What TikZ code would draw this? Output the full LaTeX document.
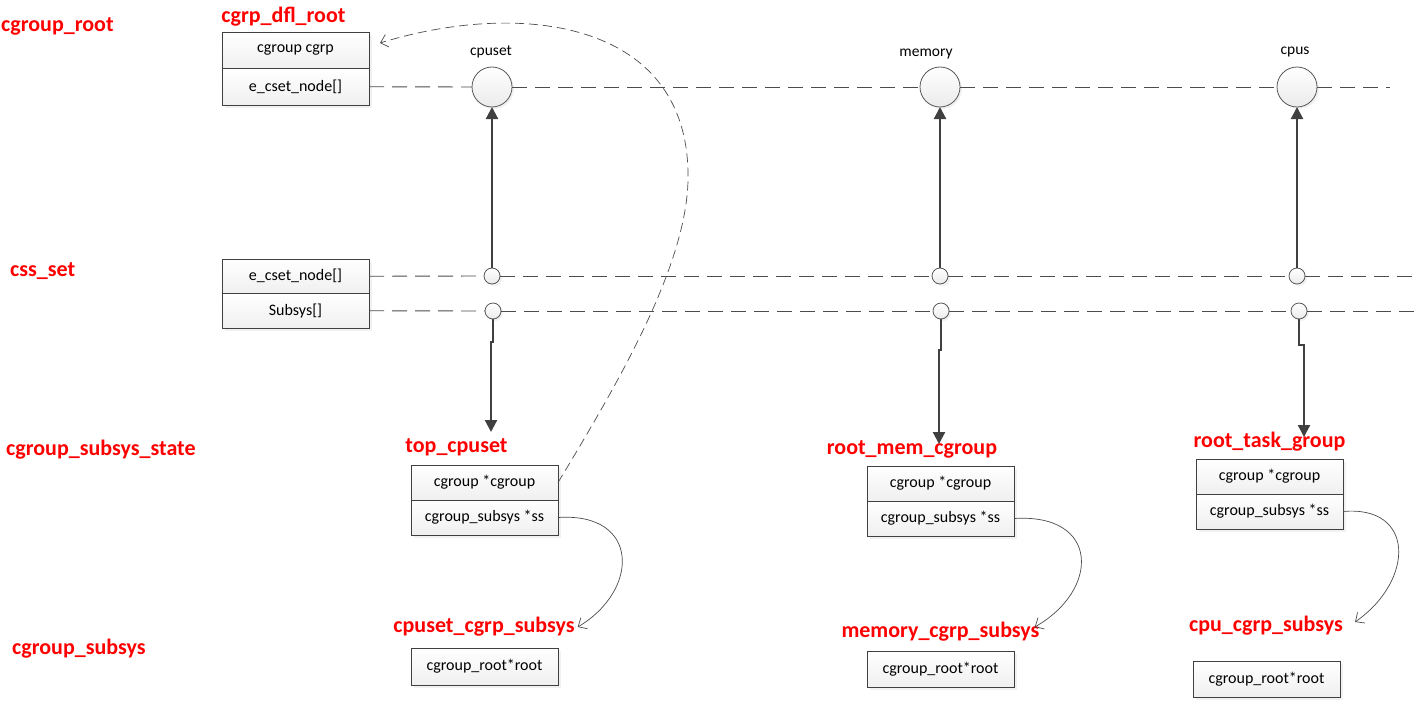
\documentclass[tikz,border=0pt]{standalone}
\usepackage{fontspec}
\setmainfont{Carlito}
\usetikzlibrary{arrows.meta,positioning,shadows}
\definecolor{lblred}{HTML}{FF0000}
\definecolor{linegray}{HTML}{404040}

\begin{document}
\begin{tikzpicture}[
    x=1pt, y=-1pt,
    field/.style={rectangle, draw=black!75, line width=0.9pt, top color=white, bottom color=black!6,
                  minimum width=147pt, minimum height=35pt, inner sep=0pt, outer sep=0pt,
                  font=\fontsize{16}{19}\selectfont,
                  drop shadow={shadow xshift=3pt, shadow yshift=-3pt, fill=black!10}},
    bighub/.style={circle, draw=black!65, line width=0.8pt, top color=white, bottom color=black!8,
                   minimum size=40pt, inner sep=0pt, outer sep=0pt,
                   drop shadow={shadow xshift=2pt, shadow yshift=-2pt, fill=black!10}},
    smallhub/.style={bighub, minimum size=16pt},
    redlbl/.style={font=\fontsize{22}{26}\selectfont\bfseries, text=lblred, inner sep=0pt},
    sublbl/.style={font=\fontsize{15.5}{18}\selectfont, inner sep=0pt},
    uparrow/.style={-{Triangle[length=12pt,width=12pt]}, line width=2.2pt, draw=linegray},
    ptrarrow/.style={-{Straight Barb[length=7pt,width=13pt]}, line width=0.7pt, draw=black!70},
    backref/.style={ptrarrow, dash pattern=on 9pt off 5pt},
    link/.style={draw=black!70, line width=0.9pt, dash pattern=on 15pt off 8pt}
]
  \fill[white] (0,0) rectangle (1421,701);
  \useasboundingbox (0,0) rectangle (1421,701);

  % Row titles
  \node[redlbl, anchor=west] (rootlbl) at (1,26) {cgroup\_root};
  \node[redlbl, anchor=west] (csetlbl) at (10,271) {css\_set};
  \node[redlbl, anchor=west] (csslbl) at (6,450) {cgroup\_subsys\_state};
  \node[redlbl, anchor=west] (subsyslbl) at (12,649) {cgroup\_subsys};

  % cgrp_dfl_root
  \node[redlbl] (dfllbl) at (283.5,17) {cgrp\_dfl\_root};
  \node[field, anchor=north west, minimum height=36.5pt] (dflcgrp) at (222,32) {cgroup cgrp};
  \node[field, below=0pt of dflcgrp, minimum height=36.5pt] (dflcset) {e\_cset\_node[]};

  % css_set
  \node[field, anchor=north west, minimum height=34.5pt] (csetnode) at (222,259) {e\_cset\_node[]};
  \node[field, below=0pt of csetnode, minimum height=34.5pt] (csetsubsys) {Subsys[]};

  % Subsystem hubs
  \node[bighub] (cpusethub) at (492,87) {};
  \node[bighub] (memhub) at (940,87) {};
  \node[bighub] (cpushub) at (1297,87) {};
  \node[sublbl] (cpusetname) at (491,52) {cpuset};
  \node[sublbl] (memname) at (926,54) {memory};
  \node[sublbl] (cpusname) at (1295,52) {cpus};

  \node[smallhub] (cpusetcset) at (492,276) {};
  \node[smallhub] (memcset) at (940,276) {};
  \node[smallhub] (cpuscset) at (1297,276) {};
  \node[smallhub] (cpusetsub) at (493,311) {};
  \node[smallhub] (memsub) at (941,311) {};
  \node[smallhub] (cpussub) at (1299,311) {};

  % top_cpuset
  \node[redlbl] (toplbl) at (456.5,447) {top\_cpuset};
  \node[field, anchor=north west] (topcgrp) at (411,465) {cgroup *cgroup};
  \node[field, below=0pt of topcgrp] (topss) {cgroup\_subsys *ss};
  \node[redlbl] (cpusetsslbl) at (484,627) {cpuset\_cgrp\_subsys};
  \node[field, anchor=north west, minimum height=37pt] (cpusetroot) at (411,648) {cgroup\_root*root};

  % root_mem_cgroup
  \node[redlbl] (memlbl) at (912,449) {root\_mem\_cgroup};
  \node[field, anchor=north west] (memcgrp) at (867,466) {cgroup *cgroup};
  \node[field, below=0pt of memcgrp] (memss) {cgroup\_subsys *ss};
  \node[redlbl] (memsslbl) at (940.5,632) {memory\_cgrp\_subsys};
  \node[field, anchor=north west, minimum height=36pt] (memroot) at (867,651) {cgroup\_root*root};

  % root_task_group
  \node[redlbl] (tasklbl) at (1269.5,442) {root\_task\_group};
  \node[field, anchor=north west] (taskcgrp) at (1196,459) {cgroup *cgroup};
  \node[field, below=0pt of taskcgrp] (taskss) {cgroup\_subsys *ss};
  \node[redlbl] (cpusslbl) at (1266,626) {cpu\_cgrp\_subsys};
  \node[field, anchor=north west, minimum height=36pt] (cpuroot) at (1193,661) {cgroup\_root*root};

  % Dashed lists
  \coordinate (rootend) at (1390,87);
  \coordinate (csetend) at (1418,276);
  \coordinate (subend) at (1418,311);
  \draw[link] (dflcset.east) -- (cpusethub.west);
  \draw[link] (cpusethub.east) -- (memhub.west);
  \draw[link] (memhub.east) -- (cpushub.west);
  \draw[link] (cpushub.east) -- (rootend);
  \draw[link] (csetnode.east) -- (cpusetcset.west);
  \draw[link] (cpusetcset.east) -- (memcset.west);
  \draw[link] (memcset.east) -- (cpuscset.west);
  \draw[link] (cpuscset.east) -- (csetend);
  \draw[link] (csetsubsys.east) -- (cpusetsub.west);
  \draw[link] (cpusetsub.east) -- (memsub.west);
  \draw[link] (memsub.east) -- (cpussub.west);
  \draw[link] (cpussub.east) -- (subend);

  % Arrows
  \coordinate (cpusetin) at (491,432);
  \coordinate (memin) at (939,444);
  \coordinate (cpusin) at (1304,437);
  \draw[uparrow] (cpusetcset) -- (cpusethub);
  \draw[uparrow] (memcset) -- (memhub);
  \draw[uparrow] (cpuscset) -- (cpushub);
  \draw[uparrow] (cpusetsub.south) -- ++(0,23) -| (cpusetin);
  \draw[uparrow] (memsub.south) -- ++(0,31) -| (memin);
  \draw[uparrow] (cpussub.south) -- ++(0,26) -| (cpusin);

  \draw[ptrarrow] (topss.east) .. controls (640,512) and (640,590) .. ([xshift=3pt]cpusetsslbl.east);
  \draw[ptrarrow] (memss.east) .. controls (1100,513) and (1100,590) .. ([xshift=-5pt,yshift=5pt]memsslbl.east);
  \draw[ptrarrow] (taskss.east) .. controls (1415,505) and (1415,580) .. ([xshift=12pt,yshift=4pt]cpusslbl.east);

  \draw[backref] (topcgrp.east) .. controls (620,380) and (690,260) .. (688,173)
    .. controls (686,20) and (520,0) .. ([xshift=11pt,yshift=-11pt]dflcgrp.north east);

\end{tikzpicture}
\end{document}
